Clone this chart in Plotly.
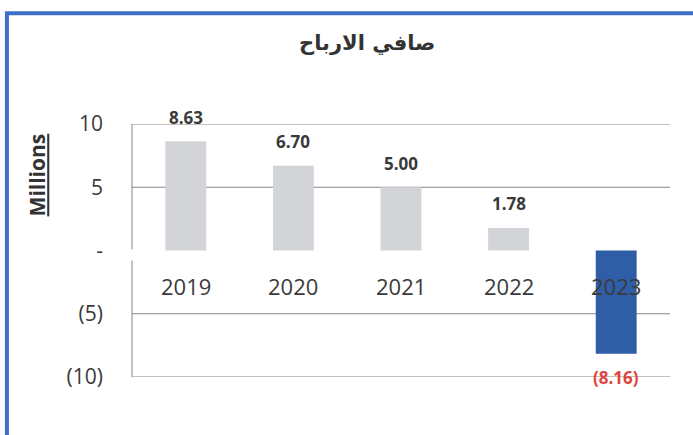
import plotly.graph_objects as go

years = ["2019", "2020", "2021", "2022", "2023"]
profits = [8.63, 6.70, 5.00, 1.78, -8.16]
labels = ["8.63", "6.70", "5.00", "1.78", "(8.16)"]
bar_colors = ["#D2D4D8", "#D2D4D8", "#D2D4D8", "#D2D4D8", "#2F5DA6"]
label_colors = ["#3a3a3a", "#3a3a3a", "#3a3a3a", "#3a3a3a", "#E0443E"]
y_tickvals = [-10, -5, 0, 5, 10]
y_ticktext = ["(10)", "(5)", "-", "5", "10"]
grid_vals = [-10, -5, 5, 10]
title_text = "صافي الارباح"
y_title = "Millions"

FONT = "Open Sans"

fig = go.Figure()
fig.add_trace(go.Bar(
    x=years, y=profits, marker=dict(color=bar_colors, line=dict(width=0)),
    width=0.38, showlegend=False, hoverinfo="skip",
))

annotations = []
for i, (yr, v, lab, col) in enumerate(zip(years, profits, labels, label_colors)):
    annotations.append(dict(
        x=i, y=v, xref="x", yref="y", text="<b>%s</b>" % lab, showarrow=False,
        xanchor="center", yanchor="middle",
        yshift=24 if v >= 0 else -24, font=dict(family=FONT, size=17, color=col),
    ))
    annotations.append(dict(
        x=i, y=0, xref="x", yref="y", text=yr, showarrow=False,
        xanchor="center", yanchor="middle",
        yshift=-35, font=dict(family=FONT, size=22, color="#3a3a3a"),
    ))
annotations.append(dict(
    x=0.437, y=1.322, xref="paper", yref="paper", text="<b>%s</b>" % title_text,
    xanchor="center", yanchor="middle",
    showarrow=False, font=dict(family="DejaVu Sans", size=21, color="#333333"),
))
annotations.append(dict(
    x=-0.176, y=0.798, xref="paper", yref="paper", text="<b><u>%s</u></b>" % y_title,
    xanchor="center", yanchor="middle",
    textangle=-90, showarrow=False, font=dict(family=FONT, size=21, color="#333333"),
))

shapes = [
    dict(type="rect", xref="paper", yref="paper", x0=-0.2325, x1=1.2, y0=-0.5, y1=1.438,
         line=dict(color="#3E6FC6", width=4), layer="below"),
    dict(type="line", xref="paper", yref="y", x0=0, x1=0, y0=10, y1=0.1,
         line=dict(color="#858585", width=1)),
    dict(type="line", xref="paper", yref="y", x0=0, x1=0, y0=-0.8, y1=-10,
         line=dict(color="#858585", width=1)),
]
for g in grid_vals:
    shapes.append(dict(type="line", xref="paper", yref="y", x0=0, x1=1, y0=g, y1=g,
                       line=dict(color="#858585", width=1), layer="below"))

fig.update_layout(
    width=693, height=435,
    margin=dict(l=132, r=23, t=124, b=58),
    paper_bgcolor="white", plot_bgcolor="white",
    annotations=annotations, shapes=shapes,
    xaxis=dict(
        type="category", showline=False, showgrid=False, showticklabels=False,
        ticks="", zeroline=False, range=[-0.5, 4.5],
    ),
    yaxis=dict(
        range=[-10, 10], tickvals=y_tickvals, ticktext=y_ticktext,
        showgrid=False, zeroline=False,
        showline=False, ticks="", ticklabelstandoff=28,
        tickfont=dict(family=FONT, size=21, color="#3a3a3a"),
    ),
)

fig.write_html("out.html")
